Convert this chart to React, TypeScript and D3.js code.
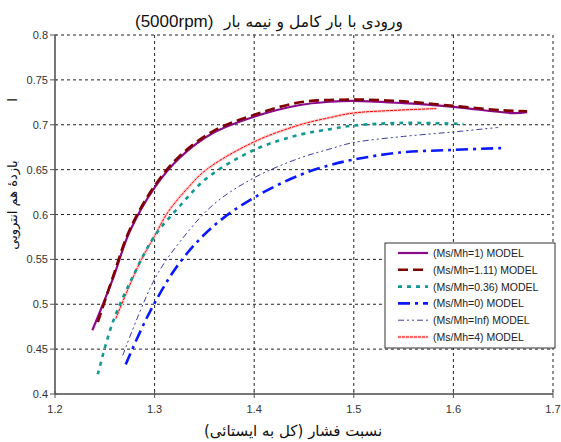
import React from "react";
import * as d3 from "d3";

const xTicks = [1.2, 1.3, 1.4, 1.5, 1.6, 1.7];
const yTicks = [0.4, 0.45, 0.5, 0.55, 0.6, 0.65, 0.7, 0.75, 0.8];

const m1X = [1.2375, 1.258, 1.275, 1.3, 1.325, 1.359, 1.4, 1.446, 1.476, 1.499, 1.55, 1.6, 1.66, 1.674];
const m1Y = [0.471, 0.528, 0.581, 0.63, 0.663, 0.691, 0.709, 0.722, 0.7256, 0.7267, 0.724, 0.72, 0.713, 0.714];

const m111X = [1.243, 1.258, 1.275, 1.3, 1.325, 1.359, 1.4, 1.446, 1.5, 1.55, 1.6, 1.65, 1.674];
const m111Y = [0.48, 0.53, 0.583, 0.632, 0.665, 0.693, 0.711, 0.725, 0.728, 0.726, 0.721, 0.716, 0.715];

const m036X = [1.243, 1.258, 1.28, 1.3, 1.325, 1.352, 1.4, 1.446, 1.476, 1.499, 1.546, 1.61];
const m036Y = [0.422, 0.48, 0.535, 0.576, 0.609, 0.64, 0.672, 0.689, 0.695, 0.699, 0.702, 0.701];

const m0X = [1.271, 1.295, 1.325, 1.359, 1.4, 1.446, 1.476, 1.499, 1.546, 1.6, 1.649];
const m0Y = [0.433, 0.491, 0.546, 0.587, 0.619, 0.644, 0.655, 0.661, 0.669, 0.672, 0.674];

const mInfX = [1.268, 1.3, 1.325, 1.359, 1.4, 1.446, 1.476, 1.499, 1.55, 1.6, 1.645];
const mInfY = [0.443, 0.528, 0.569, 0.611, 0.641, 0.663, 0.673, 0.68, 0.687, 0.692, 0.697];

const m4X = [1.261, 1.285, 1.3, 1.313, 1.332, 1.352, 1.4, 1.446, 1.476, 1.499, 1.54, 1.583];
const m4Y = [0.484, 0.546, 0.576, 0.602, 0.628, 0.65, 0.681, 0.7, 0.708, 0.713, 0.716, 0.718];

const seriesNames = [
  "(Ms/Mh=1) MODEL",
  "(Ms/Mh=1.11) MODEL",
  "(Ms/Mh=0.36) MODEL",
  "(Ms/Mh=0) MODEL",
  "(Ms/Mh=Inf) MODEL",
  "(Ms/Mh=4) MODEL",
];

type Style = { color: string; width: number; dash?: string; halo?: string };

const styles: Style[] = [
  { color: "#8b0a8b", width: 2.2 },
  { color: "#800000", width: 2.6, dash: "10,5" },
  { color: "#119a94", width: 2.6, dash: "4,5" },
  { color: "#0a1aff", width: 2.6, dash: "12,5,3,5" },
  { color: "#3a3aa0", width: 1, dash: "6,3,2,3,2,3" },
  { color: "#ff0000", width: 1, dash: "3,1", halo: "#ffd0d0" },
];

const seriesX = [m1X, m111X, m036X, m0X, mInfX, m4X];
const seriesY = [m1Y, m111Y, m036Y, m0Y, mInfY, m4Y];

export default function App() {
  const W = 561, H = 442;
  const left = 55, right = 553, top = 35, bottom = 394;
  const x = d3.scaleLinear().domain([1.2, 1.7]).range([left, right]);
  const y = d3.scaleLinear().domain([0.4, 0.8]).range([bottom, top]);
  const line = d3
    .line<[number, number]>()
    .x((d) => x(d[0]))
    .y((d) => y(d[1]))
    .curve(d3.curveCatmullRom.alpha(0.5));

  const font = "'Liberation Sans', Arial, sans-serif";
  const fa = "'DejaVu Sans', 'Noto Sans', sans-serif";
  const order = [5, 4, 3, 2, 0, 1];

  return (
    <svg width={W} height={H} style={{ position: "absolute", left: 0, top: 0 }} fontFamily={font}>
      <rect x={0} y={0} width={W} height={H} fill="#fff" />
      {yTicks.filter((t) => t > 0.4).map((t) => (
        <line key={"gy" + t} x1={left} x2={right} y1={y(t)} y2={y(t)} stroke="#222" strokeWidth={1} strokeDasharray="3,3" />
      ))}
      {xTicks.filter((t) => t > 1.2).map((t) => (
        <line key={"gx" + t} x1={x(t)} x2={x(t)} y1={top} y2={bottom} stroke="#222" strokeWidth={1} strokeDasharray="3,3" />
      ))}
      <line x1={left} x2={left} y1={top} y2={bottom} stroke="#777" strokeWidth={2} />
      <line x1={left} x2={right} y1={bottom} y2={bottom} stroke="#777" strokeWidth={2} />
      {yTicks.map((t) => (
        <g key={"yt" + t}>
          <line x1={left - 5} x2={left + 2} y1={y(t)} y2={y(t)} stroke="#555" />
          <text x={left - 7} y={y(t) + 4} textAnchor="end" fontSize={11} fill="#333">
            {String(t)}
          </text>
        </g>
      ))}
      {xTicks.map((t) => (
        <g key={"xt" + t}>
          <line x1={x(t)} x2={x(t)} y1={bottom - 3} y2={bottom + 4} stroke="#555" />
          <text x={x(t)} y={bottom + 19} textAnchor="middle" fontSize={11} fill="#333">
            {t.toFixed(1)}
          </text>
        </g>
      ))}
      {order.map((i) => {
        const pts = seriesX[i].map((v, k) => [v, seriesY[i][k]] as [number, number]);
        const s = styles[i];
        const d = line(pts) || "";
        return (
          <g key={"s" + i}>
            {s.halo && <path d={d} fill="none" stroke={s.halo} strokeWidth={3} />}
            <path d={d} fill="none" stroke={s.color} strokeWidth={s.width} strokeDasharray={s.dash} />
          </g>
        );
      })}
      <rect x={385} y={243} width={170} height={105} fill="#fff" stroke="#333" strokeWidth={1} />
      {seriesNames.map((n, i) => {
        const s = styles[i];
        const yy = 253 + i * 16.8;
        return (
          <g key={"lg" + i}>
            {s.halo && <line x1={398} x2={428} y1={yy} y2={yy} stroke={s.halo} strokeWidth={3} />}
            <line x1={398} x2={428} y1={yy} y2={yy} stroke={s.color} strokeWidth={s.width} strokeDasharray={s.dash} />
            <text x={433} y={yy + 4} fontSize={10.5} fill="#222">{n}</text>
          </g>
        );
      })}
      <text x={403} y={27} textAnchor="end" fontSize={15.5} fontFamily={fa} fill="#111">ورودی با بار کامل و نیمه بار</text>
      <text x={135} y={27} textAnchor="start" fontSize={17} fontFamily={font} fill="#111">(5000rpm)</text>
      <text x={293} y={436} textAnchor="middle" fontSize={15} fontFamily={fa} fill="#111">نسبت فشار (کل به ایستائی)</text>
      <text transform="translate(17,205) rotate(-90)" textAnchor="middle" fontSize={13} fontFamily={fa} fill="#111">بازدهٔ هم انتروپی</text>
      <text transform="translate(17,100) rotate(-90)" textAnchor="middle" fontSize={13} fontFamily={fa} fill="#111">ا</text>
    </svg>
  );
}
